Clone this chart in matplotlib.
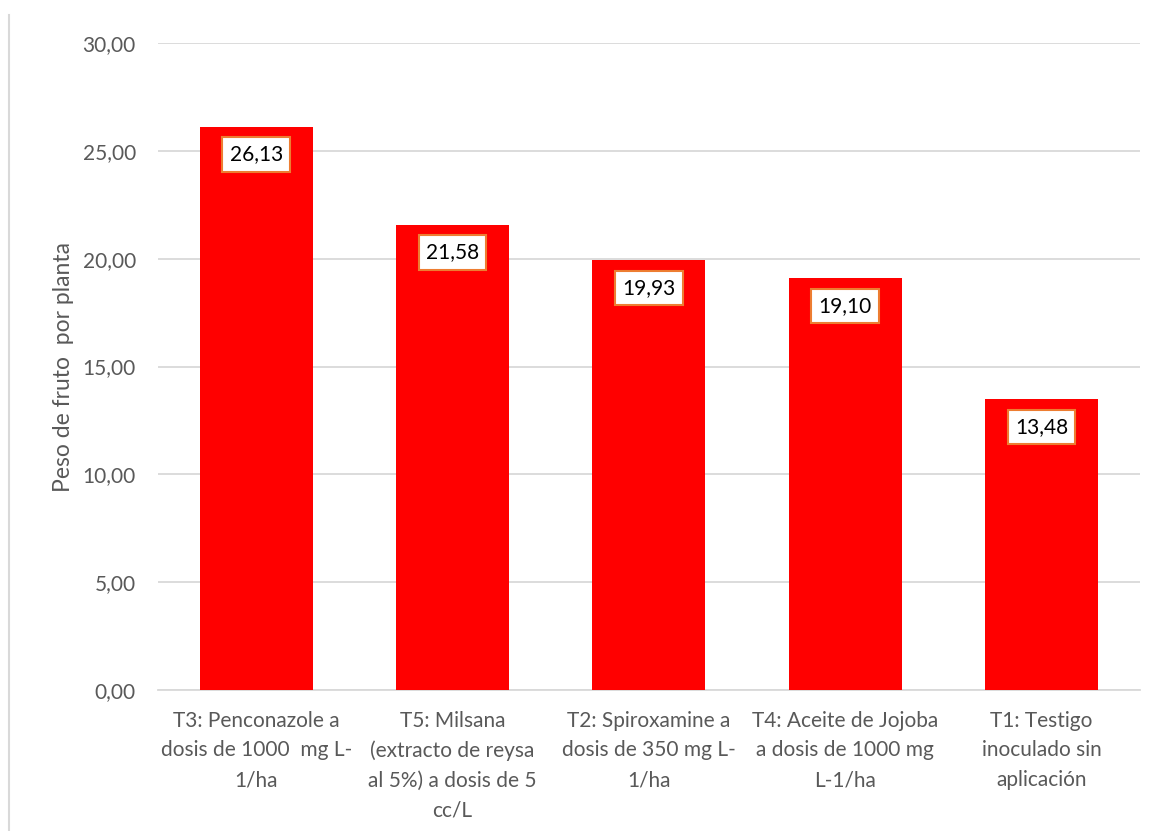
import matplotlib.pyplot as plt
from matplotlib.lines import Line2D

# tratamientos y peso de fruto por planta
tratamientos = [
    "T3: Penconazole a\ndosis de 1000  mg L-\n1/ha",
    "T5: Milsana\n(extracto de reysa\nal 5%) a dosis de 5\ncc/L",
    "T2: Spiroxamine a\ndosis de 350 mg L-\n1/ha",
    "T4: Aceite de Jojoba\na dosis de 1000 mg\nL-1/ha",
    "T1: Testigo\ninoculado sin\naplicación",
]
peso = [26.13, 21.58, 19.93, 19.10, 13.48]
yticks = [0, 5, 10, 15, 20, 25, 30]

plt.rcParams['font.family'] = ['Lato', 'DejaVu Sans']
gris = '#595959'

fig = plt.figure(figsize=(11.57, 8.31), dpi=100)
ax = fig.add_axes([0.1366, 0.1697, 0.8484, 0.7785])

x = range(len(peso))
ax.bar(x, peso, width=0.575, color='#ff0000', zorder=3)

for i, v in enumerate(peso):
    ax.annotate(f"{v:.2f}".replace('.', ','), xy=(i, v), xytext=(0, -20),
                textcoords='offset points', ha='center', va='center',
                fontsize=15, color='black', zorder=5,
                bbox=dict(boxstyle='square,pad=0.35', fc='white', ec='#ed7d31', lw=1.5))

ax.set_xlim(-0.5, len(peso) - 0.5)
ax.set_ylim(0, 30)
ax.set_yticks(yticks)
ax.set_yticklabels([f"{t:.2f}".replace('.', ',') for t in yticks], fontsize=15, color=gris)
ax.set_xticks(list(x))
ax.set_xticklabels(tratamientos, fontsize=15, color=gris, linespacing=1.6)
ax.tick_params(axis='both', length=0)
ax.tick_params(axis='y', pad=16)
ax.tick_params(axis='x', pad=15)

ax.grid(axis='y', color='#d9d9d9', lw=1.3, zorder=0)
for s in ['top', 'right', 'left']:
    ax.spines[s].set_visible(False)
ax.spines['bottom'].set_color('#d9d9d9')
ax.spines['bottom'].set_linewidth(1.3)

ax.set_ylabel("Peso de fruto  por planta", fontsize=16.5, color=gris, labelpad=6)

# borde gris a la izquierda
fig.add_artist(Line2D([0.0075, 0.0075], [0.0, 0.982], color='#d9d9d9', lw=1.5,
                      transform=fig.transFigure))

fig.savefig('out.png', dpi=100)
